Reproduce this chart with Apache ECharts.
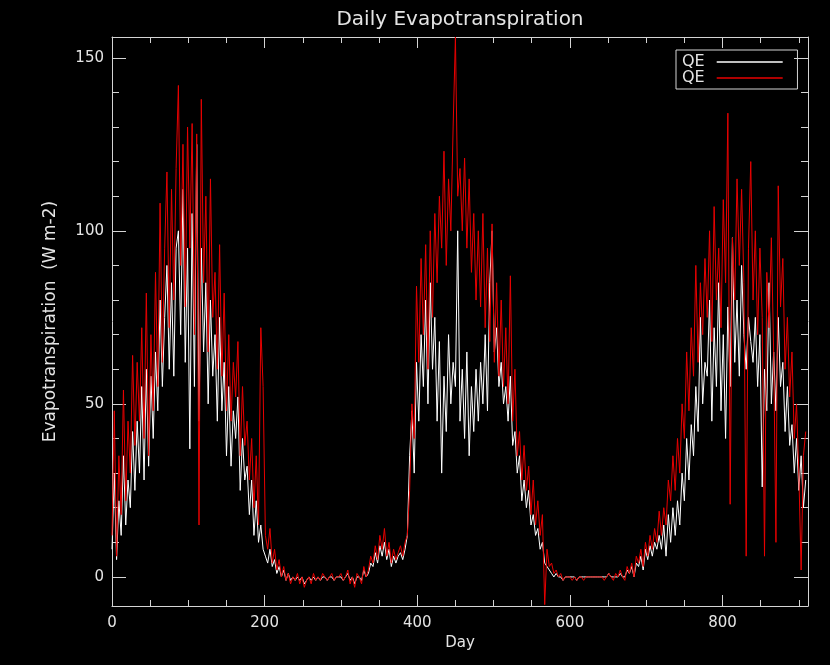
<!DOCTYPE html>
<html>
<head>
<meta charset="utf-8">
<title>Daily Evapotranspiration</title>
<script src="https://cdn.jsdelivr.net/npm/echarts@6/dist/echarts.min.js"></script>
<style>
    html, body { margin: 0; padding: 0; background: #000; }
    #chart { width: 830px; height: 665px; }
</style>
</head>
<body>
<div id="chart"></div>
<script>
// 每3天取一个读数
const DAY_STEP = 3;

// QE 白线
const qeWhite = [
    8, 30, 5, 22, 12, 35, 15, 28, 20, 42,
    25, 45, 30, 55, 28, 60, 32, 58, 40, 65,
    48, 80, 55, 75, 90, 60, 85, 58, 95, 100,
    70, 112, 62, 95, 37, 105, 55, 125, 45, 95,
    65, 85, 50, 80, 58, 70, 45, 75, 48, 62,
    35, 55, 32, 48, 40, 52, 25, 40, 28, 32,
    18, 28, 12, 22, 10, 15, 8, 6, 4, 8,
    3, 5, 1, 3, 0, 2, -1, 1, -1, 0,
    -1, 0, -1, 0, -2, -1, 0, -1, 0, -1,
    0, -1, 0, 0, -1, 0, 0, -1, 0, 0,
    0, -1, 0, 1, -1, 0, -2, 0, 0, -1,
    2, 0, 1, 4, 3, 7, 4, 9, 6, 10,
    5, 8, 3, 6, 4, 6, 7, 5, 8, 12,
    35, 48, 30, 62, 45, 70, 55, 80, 50, 85,
    60, 75, 45, 68, 30, 58, 42, 70, 50, 62,
    55, 100, 45, 60, 40, 65, 35, 55, 42, 60,
    45, 62, 50, 70, 48, 85, 100, 65, 72, 55,
    62, 50, 55, 45, 58, 38, 42, 30, 35, 22,
    28, 20, 25, 15, 18, 12, 14, 8, 10, 4,
    3, 2, 1, 0, 1, 0, 0, -1, 0, 0,
    0, 0, 0, -1, 0, 0, 0, 0, 0, 0,
    0, 0, 0, 0, 0, 0, 0, 1, 0, 0,
    0, 0, 1, 0, 0, 2, 1, 3, 0, 4,
    3, 6, 2, 8, 5, 9, 6, 10, 8, 12,
    8, 15, 6, 18, 10, 20, 12, 22, 15, 30,
    22, 40, 28, 44, 35, 55, 42, 75, 50, 62,
    58, 80, 45, 72, 55, 85, 48, 70, 40, 78,
    55, 98, 62, 80, 58, 90, 70, 60, 75, 68,
    62, 75, 55, 70, 26, 60, 48, 85, 50, 65,
    48, 75, 55, 62, 42, 55, 38, 44, 30, 40,
    25, 35, 20, 28
];

// QE 红线
const qeRed = [
    12, 48, 6, 35, 18, 54, 22, 45, 30, 64,
    38, 62, 45, 72, 40, 82, 35, 70, 48, 88,
    55, 108, 62, 95, 117, 72, 112, 80, 118, 142,
    90, 125, 78, 130, 95, 131, 70, 128, 15, 138,
    85, 110, 65, 115, 75, 88, 60, 96, 58, 82,
    48, 70, 45, 62, 52, 68, 35, 55, 38, 45,
    28, 40, 20, 35, 15, 72, 55, 12, 8, 14,
    4, 8, 2, 5, 0, 3, -1, 1, -2, 0,
    -1, 1, -2, 0, -3, -1, 0, -2, 1, -1,
    0, -1, 1, 0, -1, 0, 1, -1, 0, 0,
    1, -1, 0, 2, -2, 0, -3, 1, 0, -2,
    3, 0, 2, 6, 4, 9, 5, 12, 8, 14,
    6, 10, 4, 8, 5, 7, 9, 6, 10, 12,
    25, 50, 40, 84, 62, 92, 70, 96, 60, 100,
    75, 105, 85, 110, 95, 123, 90, 115, 100, 130,
    156, 110, 118, 100, 121, 95, 115, 88, 105, 80,
    100, 78, 105, 72, 95, 68, 102, 62, 85, 58,
    80, 55, 72, 50, 87, 45, 60, 35, 42, 28,
    38, 25, 32, 18, 28, 15, 22, 12, 18, -8,
    8, 3, 4, 1, 2, 0, 1, -1, 0, 0,
    0, -1, 0, -1, 0, 0, -1, 0, 0, 0,
    0, 0, 0, 0, 0, -1, 0, 1, 0, -1,
    1, 0, 2, 0, -1, 3, 1, 4, 0, 6,
    4, 8, 3, 10, 6, 12, 8, 14, 10, 19,
    12, 20, 15, 28, 22, 35, 25, 40, 30, 50,
    40, 65, 48, 72, 58, 90, 62, 85, 70, 92,
    75, 100, 68, 107, 80, 95, 72, 109, 85, 134,
    21, 98, 80, 115, 90, 112, 85, 6, 95, 120,
    80, 100, 70, 95, 75, 6, 88, 72, 98, 65,
    10, 113, 78, 92, 60, 75, 52, 65, 40, 50,
    30, 2, 35, 42
];

// 刻度
const xMajorTicks = [0, 200, 400, 600, 800];
const xMinorTicks = [50, 100, 150, 250, 300, 350, 450, 500, 550, 650, 700, 750, 850, 900];
const yMajorTicks = [0, 50, 100, 150];
const yMinorTicks = [10, 20, 30, 40, 60, 70, 80, 90, 110, 120, 130, 140];

const X_MIN = 0, X_MAX = 912;
const Y_MIN = -8.4, Y_MAX = 156;

const AXIS_COLOR = '#d4d4d4';
const TEXT_COLOR = '#e4e4e4';
const FONT = 'DejaVu Sans';

function toPairs(values) {
    return values.map((v, i) => [i * DAY_STEP, v]);
}

// 坐标轴（IDL 风格：四边框，刻度朝内）
function makeAxis(kind, position, ticks, tickLen, withLine, withLabels) {
    const isX = kind === 'x';
    return {
        type: 'value',
        position: position,
        min: isX ? X_MIN : Y_MIN,
        max: isX ? X_MAX : Y_MAX,
        name: '',
        axisLine: { show: withLine, onZero: false, lineStyle: { color: AXIS_COLOR, width: 1 } },
        axisTick: {
            show: true,
            inside: true,
            length: tickLen,
            customValues: ticks,
            lineStyle: { color: AXIS_COLOR, width: 1 }
        },
        axisLabel: {
            show: withLabels,
            customValues: ticks,
            color: TEXT_COLOR,
            fontFamily: FONT,
            fontSize: 15,
            margin: isX ? 10 : 8
        },
        splitLine: { show: false }
    };
}

const chart = echarts.init(document.getElementById('chart'));

const xAxes = [
    makeAxis('x', 'bottom', xMajorTicks, 11, true, true),
    makeAxis('x', 'bottom', xMinorTicks, 6, false, false),
    makeAxis('x', 'top', xMajorTicks, 11, true, false),
    makeAxis('x', 'top', xMinorTicks, 6, false, false)
];
Object.assign(xAxes[0], {
    name: 'Day',
    nameLocation: 'middle',
    nameGap: 30,
    nameTextStyle: { color: TEXT_COLOR, fontFamily: FONT, fontSize: 15 }
});

const yAxes = [
    makeAxis('y', 'left', yMajorTicks, 14, true, true),
    makeAxis('y', 'left', yMinorTicks, 7, false, false),
    makeAxis('y', 'right', yMajorTicks, 14, true, false),
    makeAxis('y', 'right', yMinorTicks, 7, false, false)
];
Object.assign(yAxes[0], {
    name: 'Evapotranspiration  (W m-2)',
    nameLocation: 'middle',
    nameGap: 53,
    nameTextStyle: { color: TEXT_COLOR, fontFamily: FONT, fontSize: 17 }
});

const option = {
    backgroundColor: '#000000',
    animation: false,
    title: {
        text: 'Daily Evapotranspiration',
        left: 455,
        top: 5,
        textAlign: 'center',
        textStyle: { color: TEXT_COLOR, fontFamily: FONT, fontSize: 20, fontWeight: 'normal' }
    },
    legend: {
        orient: 'vertical',
        left: 676,
        top: 50,
        align: 'right',
        padding: [4, 14, 3, 6],
        itemGap: 0,
        itemWidth: 66,
        itemHeight: 14,
        borderColor: AXIS_COLOR,
        borderWidth: 1,
        formatter: () => 'QE',
        textStyle: { color: TEXT_COLOR, fontFamily: FONT, fontSize: 16, lineHeight: 15, padding: [0, 7, 0, 0] },
        itemStyle: { opacity: 0 },
        lineStyle: { width: 1.5 }
    },
    grid: { left: 112, top: 37, right: 22, bottom: 59, containLabel: false },
    xAxis: xAxes,
    yAxis: yAxes,
    series: [
        {
            name: 'QE white',
            type: 'line',
            symbol: 'none',
            data: toPairs(qeWhite),
            lineStyle: { color: '#ffffff', width: 1 },
            itemStyle: { color: '#ffffff' }
        },
        {
            name: 'QE red',
            type: 'line',
            symbol: 'none',
            data: toPairs(qeRed),
            lineStyle: { color: '#e80000', width: 1 },
            itemStyle: { color: '#e80000' }
        }
    ]
};

chart.setOption(option);
</script>
</body>
</html>
